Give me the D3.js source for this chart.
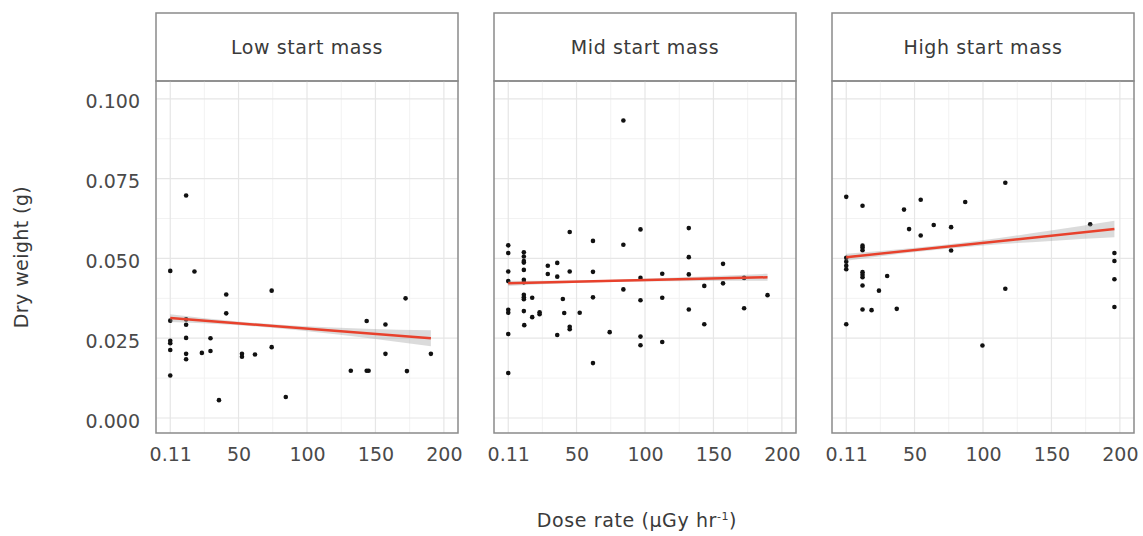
<!DOCTYPE html>
<html>
<head>
<meta charset="utf-8">
<script src="https://cdn.jsdelivr.net/npm/d3@7"></script>
<style>
  body { margin: 0; background: #fff; }
  text { font-family: "DejaVu Sans", sans-serif; }
</style>
</head>
<body>
<div id="chart"></div>
<script>
// facet names
const panels = ["Low start mass", "Mid start mass", "High start mass"];

// tick values / labels
const xTicks = [0.11, 50, 100, 150, 200];
const xTickLabels = ["0.11", "50", "100", "150", "200"];
const xMinor = [25, 75, 125, 175];
const yTicks = [0, 0.025, 0.05, 0.075, 0.1];
const yMinor = [0.0125, 0.0375, 0.0625, 0.0875];

// Low start mass
const lowDose = [0.11, 11.7, 17.8, 41, 41, 74.2, 0.11, 11.7, 11.7, 0.11, 0.11, 0.11, 0.11,
  11.7, 11.7, 11.7, 23.2, 29.5, 29.5, 35.7, 52.5, 52.5, 62, 74.2, 84.5, 132, 143.6, 143.6,
  145, 157.3, 157.3, 172, 173, 190.5];
const lowWeight = [0.0461, 0.0697, 0.0459, 0.0387, 0.0328, 0.0399, 0.0305, 0.0309, 0.0292,
  0.0242, 0.0234, 0.0213, 0.0133, 0.0251, 0.0201, 0.0184, 0.0204, 0.0250, 0.0210, 0.0056,
  0.0201, 0.0192, 0.0199, 0.0222, 0.0066, 0.0148, 0.0304, 0.0148, 0.0148, 0.0293, 0.0201,
  0.0375, 0.0147, 0.0201];

// Mid start mass
const midDose = [84.2, 0.11, 0.11, 0.11, 0.11, 0.11, 0.11, 0.11, 0.11, 11.5, 11.5, 11.5,
  11.5, 11.5, 11.5, 11.5, 11.5, 11.5, 11.5, 11.5, 11.8, 17.6, 17.6, 23, 23, 29, 29, 35.9,
  35.9, 35.9, 40, 41, 45, 45, 45, 45, 52.3, 62, 62, 62, 62, 74.2, 84.2, 84.2, 96.7, 96.7,
  96.7, 96.7, 96.7, 112.6, 112.6, 112.6, 132, 132, 132, 132, 143.3, 143.3, 157, 157,
  172.4, 172.4, 189.5];
const midWeight = [0.0932, 0.0541, 0.0517, 0.0459, 0.0429, 0.0339, 0.0330, 0.0263, 0.0141,
  0.0519, 0.0506, 0.0492, 0.0487, 0.0464, 0.0433, 0.0425, 0.0386, 0.0378, 0.0372, 0.0335,
  0.0291, 0.0377, 0.0316, 0.0331, 0.0325, 0.0477, 0.0451, 0.0486, 0.0443, 0.0260, 0.0373,
  0.0329, 0.0583, 0.0459, 0.0286, 0.0278, 0.0330, 0.0555, 0.0458, 0.0378, 0.0172, 0.0269,
  0.0543, 0.0403, 0.0591, 0.0439, 0.0369, 0.0255, 0.0228, 0.0452, 0.0377, 0.0238, 0.0595,
  0.0504, 0.0450, 0.0340, 0.0414, 0.0294, 0.0483, 0.0422, 0.0439, 0.0344, 0.0385];

// High start mass
const highDose = [0.11, 0.11, 0.11, 0.11, 0.11, 0.11, 12, 12, 12, 12, 12, 12, 12, 12, 12,
  18.6, 24, 30, 37, 42.3, 46, 54.5, 54.5, 64, 76.7, 76.7, 87, 99.6, 116.3, 116.3, 178.3,
  196, 196, 196, 196];
const highWeight = [0.0693, 0.0502, 0.0490, 0.0477, 0.0466, 0.0294, 0.0665, 0.0540, 0.0534,
  0.0526, 0.0457, 0.0449, 0.0441, 0.0415, 0.0340, 0.0338, 0.0399, 0.0445, 0.0342, 0.0653,
  0.0592, 0.0684, 0.0572, 0.0605, 0.0598, 0.0525, 0.0677, 0.0227, 0.0737, 0.0405, 0.0607,
  0.0517, 0.0492, 0.0435, 0.0348];

// fitted lm lines: value at the ends of each panel's dose range
const fitLow = [0.0313, 0.0250];
const fitMid = [0.0422, 0.0441];
const fitHigh = [0.0504, 0.0592];
// confidence band half widths at 0%, 25%, 50%, 75%, 100% of the dose range
const bandLow = [0.0012, 0.0006, 0.0007, 0.0014, 0.0025];
const bandMid = [0.0008, 0.0004, 0.0004, 0.0007, 0.0011];
const bandHigh = [0.0011, 0.0007, 0.0008, 0.0016, 0.0026];

const series = [
  { dose: lowDose, weight: lowWeight, fit: fitLow, band: bandLow },
  { dose: midDose, weight: midWeight, fit: fitMid, band: bandMid },
  { dose: highDose, weight: highWeight, fit: fitHigh, band: bandHigh }
];

const W = 1143, H = 536;
const panelW = 302, panelStep = 338, firstLeft = 156;
const stripTop = 13, panelTop = 81, panelBottom = 433;
const panelH = panelBottom - panelTop;

const svg = d3.select("#chart").append("svg")
  .attr("width", W)
  .attr("height", H);

const x = d3.scaleLinear().domain([-10.3, 210.3]).range([0, panelW]);
const y = d3.scaleLinear().domain([-0.0047, 0.1056]).range([panelH, 0]);

const border = "#8a8a8a";

panels.forEach(function(name, i) {
  const s = series[i];
  const left = firstLeft + i * panelStep;

  // strip
  const strip = svg.append("g").attr("transform", "translate(" + left + "," + stripTop + ")");
  strip.append("rect")
    .attr("width", panelW).attr("height", panelTop - stripTop)
    .attr("fill", "#fff").attr("stroke", border).attr("stroke-width", 1.5);
  strip.append("text")
    .attr("x", panelW / 2).attr("y", (panelTop - stripTop) / 2)
    .attr("dy", "0.35em")
    .attr("text-anchor", "middle")
    .attr("font-size", 19)
    .attr("letter-spacing", 0.6)
    .attr("fill", "#3a3a3a")
    .text(name);

  const g = svg.append("g").attr("transform", "translate(" + left + "," + panelTop + ")");

  // grid
  g.selectAll(".ymin").data(yMinor).enter().append("line")
    .attr("x1", 0).attr("x2", panelW)
    .attr("y1", d => y(d)).attr("y2", d => y(d))
    .attr("stroke", "#f2f2f2").attr("stroke-width", 1);
  g.selectAll(".xmin").data(xMinor).enter().append("line")
    .attr("y1", 0).attr("y2", panelH)
    .attr("x1", d => x(d)).attr("x2", d => x(d))
    .attr("stroke", "#f2f2f2").attr("stroke-width", 1);
  g.selectAll(".ymaj").data(yTicks).enter().append("line")
    .attr("x1", 0).attr("x2", panelW)
    .attr("y1", d => y(d)).attr("y2", d => y(d))
    .attr("stroke", "#e6e6e6").attr("stroke-width", 1.2);
  g.selectAll(".xmaj").data(xTicks).enter().append("line")
    .attr("y1", 0).attr("y2", panelH)
    .attr("x1", d => x(d)).attr("x2", d => x(d))
    .attr("stroke", "#e6e6e6").attr("stroke-width", 1.2);

  // points
  g.selectAll(".pt").data(d3.range(s.dose.length)).enter().append("circle")
    .attr("cx", k => x(s.dose[k]))
    .attr("cy", k => y(s.weight[k]))
    .attr("r", 2.3)
    .attr("fill", "#111");

  // fit band + line
  const ext = d3.extent(s.dose);
  const bandPts = s.band.map(function(h, k) {
    const t = k / (s.band.length - 1);
    const dx = ext[0] + t * (ext[1] - ext[0]);
    const fv = s.fit[0] + t * (s.fit[1] - s.fit[0]);
    return { dx: dx, lo: fv - h, hi: fv + h };
  });
  g.append("path")
    .datum(bandPts)
    .attr("d", d3.area().curve(d3.curveMonotoneX)
      .x(d => x(d.dx)).y0(d => y(d.lo)).y1(d => y(d.hi)))
    .attr("fill", "#999").attr("fill-opacity", 0.35);
  g.append("line")
    .attr("x1", x(ext[0])).attr("x2", x(ext[1]))
    .attr("y1", y(s.fit[0])).attr("y2", y(s.fit[1]))
    .attr("stroke", "#e8412c").attr("stroke-width", 2.5);

  // border
  g.append("rect")
    .attr("width", panelW).attr("height", panelH)
    .attr("fill", "none").attr("stroke", border).attr("stroke-width", 1.5);

  // x axis labels
  const xa = svg.append("g")
    .attr("transform", "translate(" + left + "," + (panelBottom + 5) + ")")
    .call(d3.axisBottom(x).tickValues(xTicks).tickSize(0).tickPadding(10)
      .tickFormat((d, k) => xTickLabels[k]));
  xa.select(".domain").remove();
  xa.selectAll("text").attr("font-size", 19).attr("fill", "#4a4a4a")
    .style("font-family", "'DejaVu Sans', sans-serif");

  if (i === 0) {
    const ya = svg.append("g")
      .attr("transform", "translate(" + (left - 6) + "," + (panelTop + 3) + ")")
      .call(d3.axisLeft(y).tickValues(yTicks).tickSize(0).tickPadding(10)
        .tickFormat(d3.format(".3f")));
    ya.select(".domain").remove();
    ya.selectAll("text").attr("font-size", 19).attr("fill", "#4a4a4a")
      .style("font-family", "'DejaVu Sans', sans-serif");
  }
});

// axis titles
svg.append("text")
  .attr("x", 637).attr("y", 527)
  .attr("text-anchor", "middle")
  .attr("font-size", 19).attr("letter-spacing", 0.6).attr("fill", "#3a3a3a")
  .html('Dose rate (µGy hr<tspan dy="-7" font-size="11">-1</tspan><tspan dy="7">)</tspan>');

svg.append("text")
  .attr("transform", "translate(28," + (panelTop + panelH / 2) + ") rotate(-90)")
  .attr("text-anchor", "middle")
  .attr("font-size", 19).attr("letter-spacing", 0.4).attr("fill", "#3a3a3a")
  .text("Dry weight (g)");
</script>
</body>
</html>
